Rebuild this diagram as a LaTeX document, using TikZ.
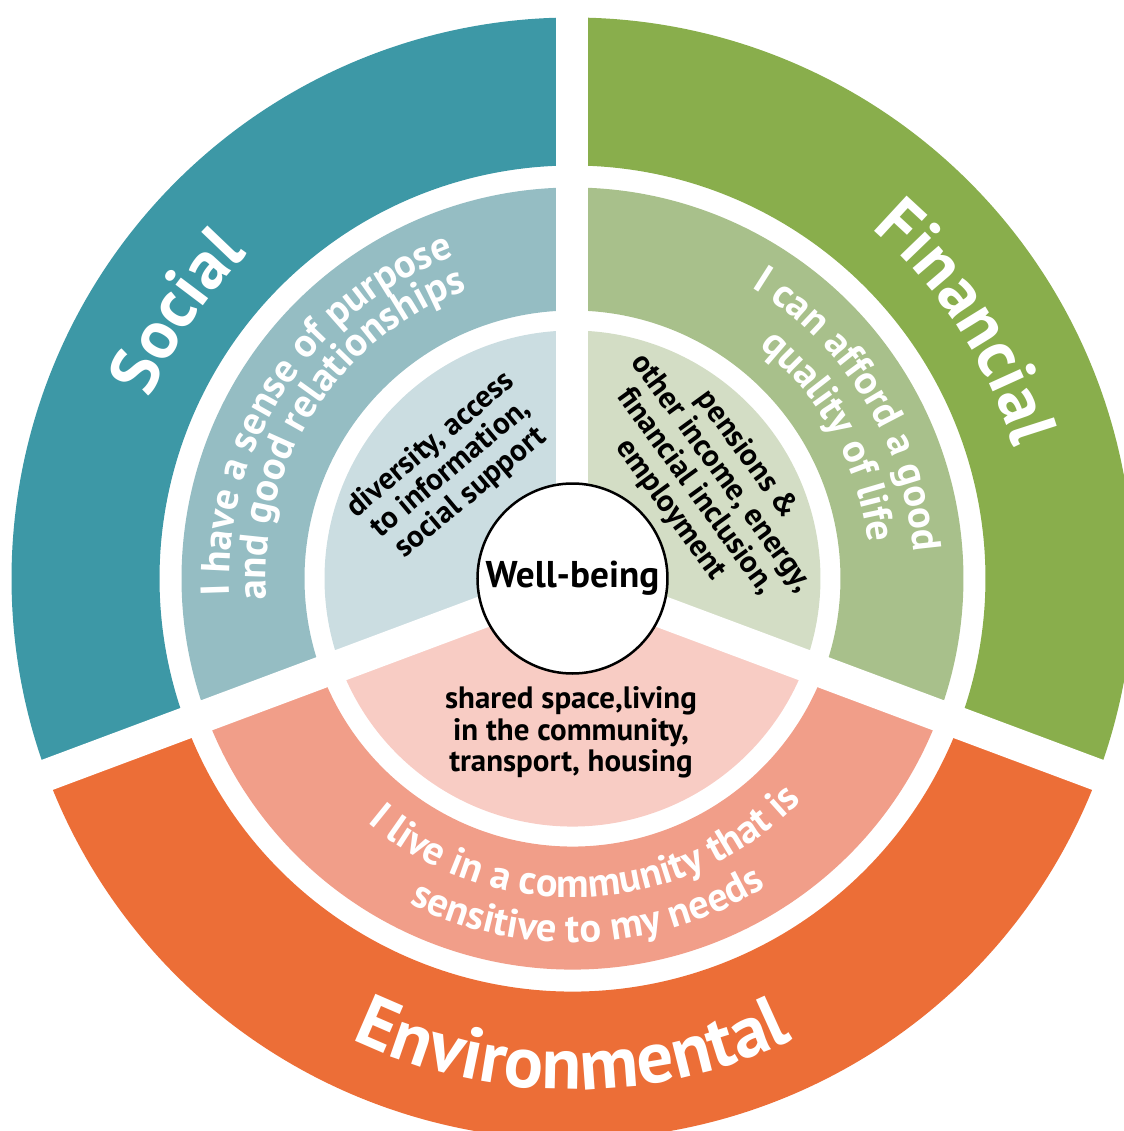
\documentclass[tikz,border=0pt]{standalone}
\usepackage{fontspec}
\setmainfont{PT Sans}
\usetikzlibrary{decorations.text}

% ring colours
\definecolor{socOuter}{RGB}{61,152,166}
\definecolor{socMid}{RGB}{149,189,195}
\definecolor{socCore}{RGB}{203,221,225}
\definecolor{finOuter}{RGB}{137,174,76}
\definecolor{finMid}{RGB}{168,192,139}
\definecolor{finCore}{RGB}{211,221,197}
\definecolor{envOuter}{RGB}{236,110,55}
\definecolor{envMid}{RGB}{241,158,137}
\definecolor{envCore}{RGB}{248,204,196}

\newcommand\outerfont{\fontsize{19.5}{22}\selectfont\bfseries}
\newcommand\envfont{\fontsize{20.8}{23}\selectfont\bfseries}
\newcommand\ringfont{\fontsize{11.5}{13}\selectfont\bfseries}
\newcommand\corefont{\fontsize{8.8}{8.9}\selectfont\bfseries}

\begin{document}
\begin{tikzpicture}[
    % GLOBAL CFG
    font=\bfseries,
    % Styles
    gap/.style={% white strips between the sectors
        draw=white,
        line width=3.2mm,
        },
    hub/.style={% the circle in the middle
        circle,
        draw,
        fill=white,
        line width=0.25mm,
        minimum size=19mm,
        inner sep=0pt,
        font=\fontsize{10.6}{12}\selectfont\bfseries,
        },
    core/.style={% straight text of the inner ring
        align=center,
        inner sep=0pt,
        font=\corefont,
        },
    ringtext/.style={% white text bent round a ring
        decorate,
        decoration={text along path, text align=center, text color=white},
        },
    ]

    \useasboundingbox (-57.25mm,-55.25mm) rectangle (55.15mm,57.85mm);

%Start drawing the thing...
    % Draw the three sectors, ring by ring
    \foreach \from/\to/\colA/\colB/\colC in {90/200.5/socOuter/socMid/socCore,
        -20.5/90/finOuter/finMid/finCore, 200.5/339.5/envOuter/envMid/envCore}{
        \fill[\colA] (\from:41.3mm) arc[start angle=\from, end angle=\to, radius=41.3mm]
            -- (\to:56.1mm) arc[start angle=\to, end angle=\from, radius=56.1mm] -- cycle;
        \fill[\colB] (\from:26.8mm) arc[start angle=\from, end angle=\to, radius=26.8mm]
            -- (\to:39.1mm) arc[start angle=\to, end angle=\from, radius=39.1mm] -- cycle;
        \fill[\colC] (0,0) -- (\from:24.8mm) arc[start angle=\from, end angle=\to, radius=24.8mm] -- cycle;
    }

    % White gaps
    \foreach \ang in {90, 200.5, -20.5}
        \draw[gap] (0,0) -- (\ang:60mm);

    % Centre
    \node[hub] (hub) at (0,0) {Well-being};

    % Outer ring labels
    \path[ringtext, decoration={text={|\outerfont|Social}}]
        (176:45.9mm) arc[start angle=176, end angle=116, radius=45.9mm];
    \path[ringtext, decoration={text={|\outerfont|Financial}}]
        (63:46mm) arc[start angle=63, end angle=3, radius=46mm];
    \path[ringtext, decoration={text={|\envfont|Environmental}}]
        (225:51.1mm) arc[start angle=225, end angle=315, radius=51.1mm];

    % Middle ring statements
    \path[ringtext, decoration={text={|\ringfont|I have a sense of purpose}}]
        (216.5:34.3mm) arc[start angle=216.5, end angle=76.5, radius=34.3mm];
    \path[ringtext, decoration={text={|\ringfont|and good relationships}}]
        (217:30.7mm) arc[start angle=217, end angle=77, radius=30.7mm];
    \path[ringtext, decoration={text={|\ringfont|I can afford a good}}]
        (101.4:34.2mm) arc[start angle=101.4, end angle=-38.6, radius=34.2mm];
    \path[ringtext, decoration={text={|\ringfont|quality of life}}]
        (99:29.8mm) arc[start angle=99, end angle=-41, radius=29.8mm];
    \path[ringtext, decoration={text={|\ringfont|I live in a community that is}}]
        (203:31.9mm) arc[start angle=203, end angle=343, radius=31.9mm];
    \path[ringtext, decoration={text={|\ringfont|sensitive to my needs}}]
        (202.7:36.4mm) arc[start angle=202.7, end angle=342.7, radius=36.4mm];

    % Inner ring
    \node[core, rotate=40] (socialcore) at (-12.15mm,10.95mm)
        {diversity, access\\to information,\\social support};
    \node[core, rotate=-54] (financecore) at (13.6mm,9.6mm)
        {pensions \&\\other income, energy,\\financial inclusion,\\employment};
    \node[core] (envcore) at (-0.15mm,-15.4mm)
        {shared space,living\\in the community,\\transport, housing};

\end{tikzpicture}
\end{document}
